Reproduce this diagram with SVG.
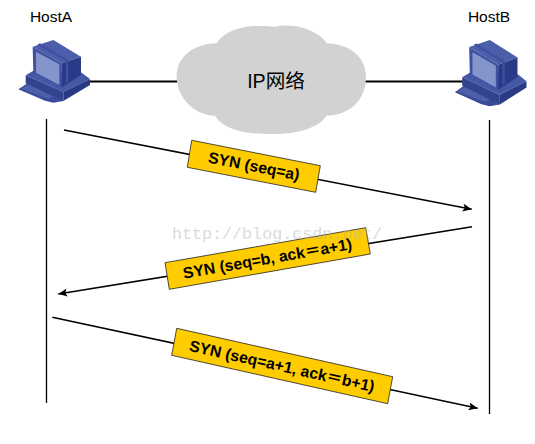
<svg xmlns="http://www.w3.org/2000/svg" width="535" height="444" viewBox="0 0 535 444">
<style>
.t{font-family:"Liberation Sans","Noto Sans CJK SC",sans-serif;fill:#000}
.host{font-size:15.5px;text-anchor:middle}
.syn{font-size:15.8px;font-weight:bold;text-anchor:middle;dominant-baseline:central}
.box{fill:#ffcc00;stroke:#222;stroke-width:.8}
.life{stroke:#000;stroke-width:1.3;fill:none}
.wire{stroke:#000;stroke-width:2;fill:none}
.msg{stroke:#000;stroke-width:1.6;fill:none;marker-end:url(#ah)}
</style>
<defs>
<marker id="ah" markerUnits="userSpaceOnUse" markerWidth="12" markerHeight="10" refX="9" refY="4" orient="auto">
<path d="M0,0L9,4L0,8L2,4Z" fill="#000"/>
</marker>
<g id="pc" transform="scale(.3333)">
<path d="M55,268L85,248L185,285L190,303L160,308L135,302Z" fill="#3a4b99"/>
<path d="M62,266L88,252L165,288L145,296Z" fill="#4d5fab"/>
<path d="M77,226L108,208L245,218L270,237L190,275Z" fill="#4558a5"/>
<path d="M77,226L190,275L190,303L77,250Z" fill="#33438f"/>
<path d="M190,275L270,237L270,255L190,303Z" fill="#2a3a85"/>
<path d="M98,140L160,120L243,170L185,190Z" fill="#4c5eaa"/>
<path d="M98,140L185,190L185,262L100,218Z" fill="#3e50a0"/>
<path d="M108,155L178,193L178,255L108,218Z" fill="#8595cb"/>
<path d="M185,190L243,170L243,225L185,262Z" fill="#2b3a86"/>
<path d="M120,130L205,180L205,244L198,248V184L112,134Z" fill="#3f51a2"/>
</g>
</defs>
<g id="connectors">
<path class="wire" d="M90,81.5H180"/>
<path class="wire" d="M364,81.5H464"/>
<path class="life" d="M46.500,119V403"/>
<path class="life" d="M489.500,120V414"/>
<path class="msg" d="M64,130L471.700,209.300"/>
<path class="msg" d="M472,226.700L58.300,294"/>
<path class="msg" d="M52.300,317.300L477.700,408.300"/>
</g>
<g id="hostA">
<use href="#pc"/>
<text class="t host" x="51" y="21.700">HostA</text>
</g>
<g id="hostB">
<use href="#pc" transform="translate(436.500,-2.500) scale(1,1.06)"/>
<text class="t host" x="489" y="21.700">HostB</text>
</g>
<g id="cloud">
<path transform="translate(160,20) scale(.3333)" d="M170,70C195,30 250,17 300,18C325,18 335,20 345,20C360,16 400,14 430,24C465,35 490,52 500,70C580,72 618,120 618,170C618,240 570,285 500,287C470,330 400,342 335,342C260,342 190,330 165,287C100,285 50,230 50,170C50,110 100,72 170,70Z" fill="#d2d2d2"/>
<text class="t" x="276" y="88" font-size="19.600" text-anchor="middle">IP网络</text>
</g>
<g id="msg1">
<path class="box" d="M191.700,140.300L320.300,165.700L315.700,192.300L187.300,167.300Z"/>
<text class="t syn" transform="translate(254,166) rotate(11.200)">SYN (seq=a)</text>
</g>
<g id="msg2">
<path class="box" d="M165,262.700L365.700,227.700L370.300,254L169.300,289.300Z"/>
<text class="t syn" transform="translate(267.500,258.500) rotate(-9.900)">SYN (seq=b, ack＝a+1)</text>
</g>
<g id="msg3">
<path class="box" d="M176.700,328.300L392.700,376.700L387.700,403.700L171.700,355.300Z"/>
<text class="t syn" transform="translate(282,366) rotate(12.600)">SYN (seq=a+1, ack＝b+1)</text>
</g>
<text x="172" y="239" font-family="'Liberation Mono',monospace" font-size="16.700" fill="#b9b9b0" opacity=".5">http://blog.csdn.net/</text>
</svg>
